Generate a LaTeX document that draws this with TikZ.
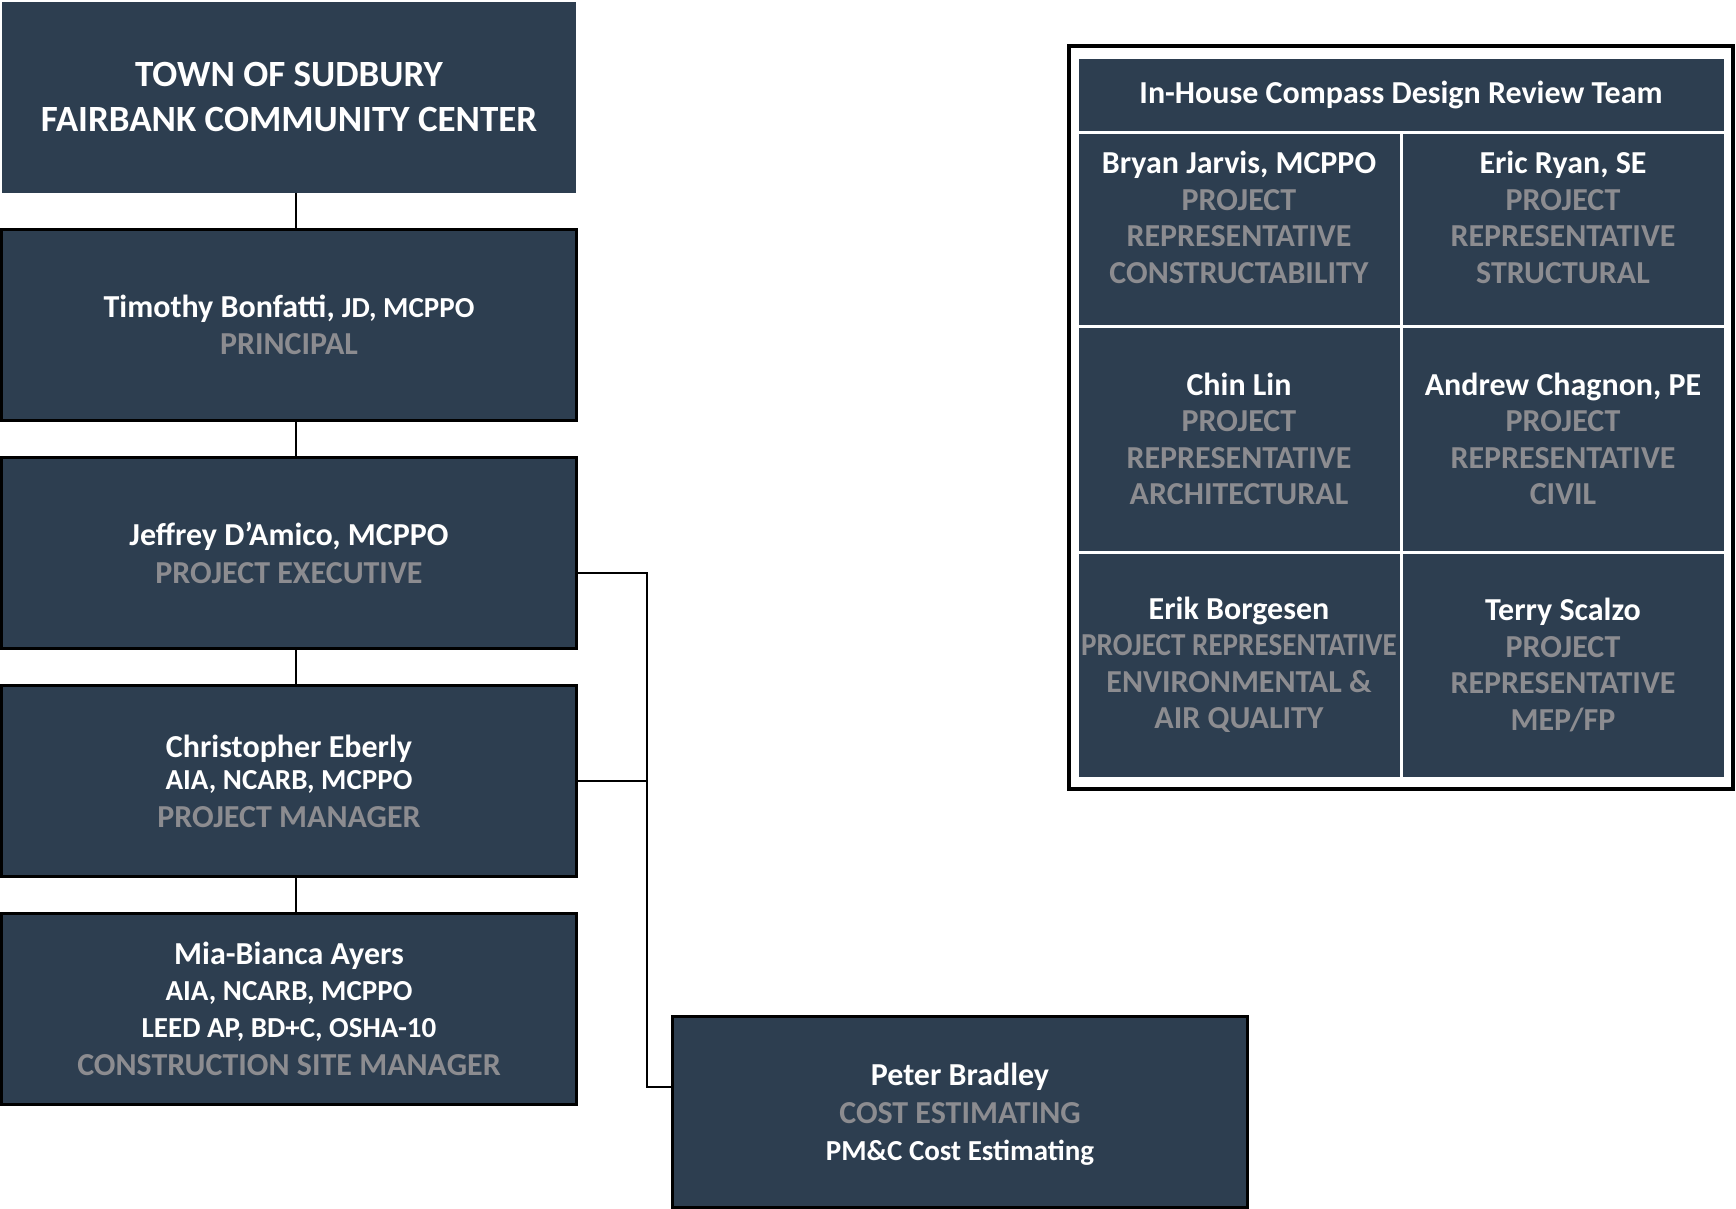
\documentclass[tikz,border=0pt]{standalone}
\usepackage{fontspec}
\usepackage{graphicx}
\setmainfont{Carlito}
\usetikzlibrary{positioning,fit}
\definecolor{navy}{HTML}{2D3E50}
\definecolor{rolegray}{HTML}{8C8C90}
\newcommand{\roletext}[1]{\textcolor{rolegray}{#1}}
\newcommand{\creds}[1]{{\fontsize{29}{37}\selectfont #1}}

\begin{document}
\begin{tikzpicture}[
    x=1pt, y=1pt,
    node distance=37pt,
    headbox/.style={fill=navy, text=white, outer sep=0pt, minimum width=574pt, minimum height=191pt, align=center, font=\fontsize{37}{45}\selectfont\bfseries},
    person/.style={draw=black, line width=2.5pt, fill=navy, text=white, outer sep=0pt, minimum width=575pt, minimum height=191pt, align=center, font=\fontsize{32}{37.5}\selectfont\bfseries},
    cell/.style={draw=white, line width=3pt, fill=navy, text=white, outer sep=0pt, inner xsep=3pt, minimum width=324pt, anchor=north west, align=center, font=\fontsize{32}{36.5}\selectfont\bfseries},
    link/.style={draw=black, line width=2pt},
    frame/.style={draw=black, line width=4.5pt, inner xsep=8pt, inner ysep=11pt}
  ]
    \useasboundingbox (0,0) rectangle (1736,-1208);

    % left column
    \node[headbox] (title) at (289,-97) {TOWN OF SUDBURY\\FAIRBANK COMMUNITY CENTER};
    \node[person, below=of title] (timothy) {Timothy Bonfatti, \creds{JD, MCPPO}\\\roletext{PRINCIPAL}};
    \node[person, below=of timothy] (jeffrey) {Jeffrey D’Amico, MCPPO\\\roletext{PROJECT EXECUTIVE}};
    \node[person, below=of jeffrey] (chris) {Christopher Eberly\\[-5pt]\creds{AIA, NCARB, MCPPO}\\\roletext{PROJECT MANAGER}};
    \node[person, below=of chris] (mia) {Mia-Bianca Ayers\\[-2pt]\creds{AIA, NCARB, MCPPO}\\\creds{LEED AP, BD+C, OSHA-10}\\\roletext{CONSTRUCTION SITE MANAGER}};
    \node[person, text depth=0pt] (peter) at (960,-1112) {Peter Bradley\\\roletext{COST ESTIMATING}\\\creds{PM\&C Cost Estimating}};

    \draw[link] ([xshift=7pt]title.south) -- ([xshift=7pt]timothy.north);
    \draw[link] ([xshift=7pt]timothy.south) -- ([xshift=7pt]jeffrey.north);
    \draw[link] ([xshift=7pt]jeffrey.south) -- ([xshift=7pt]chris.north);
    \draw[link] ([xshift=7pt]chris.south) -- ([xshift=7pt]mia.north);

    \coordinate (bus) at (647,-573);
    \draw[link] ([yshift=-20pt]jeffrey.east) -- (bus) |- ([yshift=25pt]peter.west);
    \draw[link] (chris.east) -- (chris.east -| bus);

    % review team
    \node[cell, minimum width=648pt, minimum height=75pt] (teamhead) at (1077,-57) {In-House Compass Design Review Team};
    \node[cell, minimum height=194pt, text depth=23pt] (jarvis) at (teamhead.south west) {Bryan Jarvis, MCPPO\\\roletext{PROJECT}\\\roletext{REPRESENTATIVE}\\\roletext{CONSTRUCTABILITY}};
    \node[cell, minimum height=194pt, text depth=23pt] (ryan) at (jarvis.north east) {Eric Ryan, SE\\\roletext{PROJECT}\\\roletext{REPRESENTATIVE}\\\roletext{STRUCTURAL}};
    \node[cell, minimum height=226pt] (lin) at (jarvis.south west) {Chin Lin\\\roletext{PROJECT}\\\roletext{REPRESENTATIVE}\\\roletext{ARCHITECTURAL}};
    \node[cell, minimum height=226pt] (chagnon) at (lin.north east) {Andrew Chagnon, PE\\\roletext{PROJECT}\\\roletext{REPRESENTATIVE}\\\roletext{CIVIL}};
    \node[cell, minimum height=226pt] (borgesen) at (lin.south west) {Erik Borgesen\\\roletext{\scalebox{0.91}[1]{PROJECT REPRESENTATIVE}}\\\roletext{ENVIRONMENTAL \&}\\\roletext{AIR QUALITY}};
    \node[cell, minimum height=226pt] (scalzo) at (borgesen.north east) {Terry Scalzo\\\roletext{PROJECT}\\\roletext{REPRESENTATIVE}\\\roletext{MEP/FP}};
    \node[frame, fit=(teamhead)(scalzo)] (teamframe) {};
  \end{tikzpicture}
\end{document}
